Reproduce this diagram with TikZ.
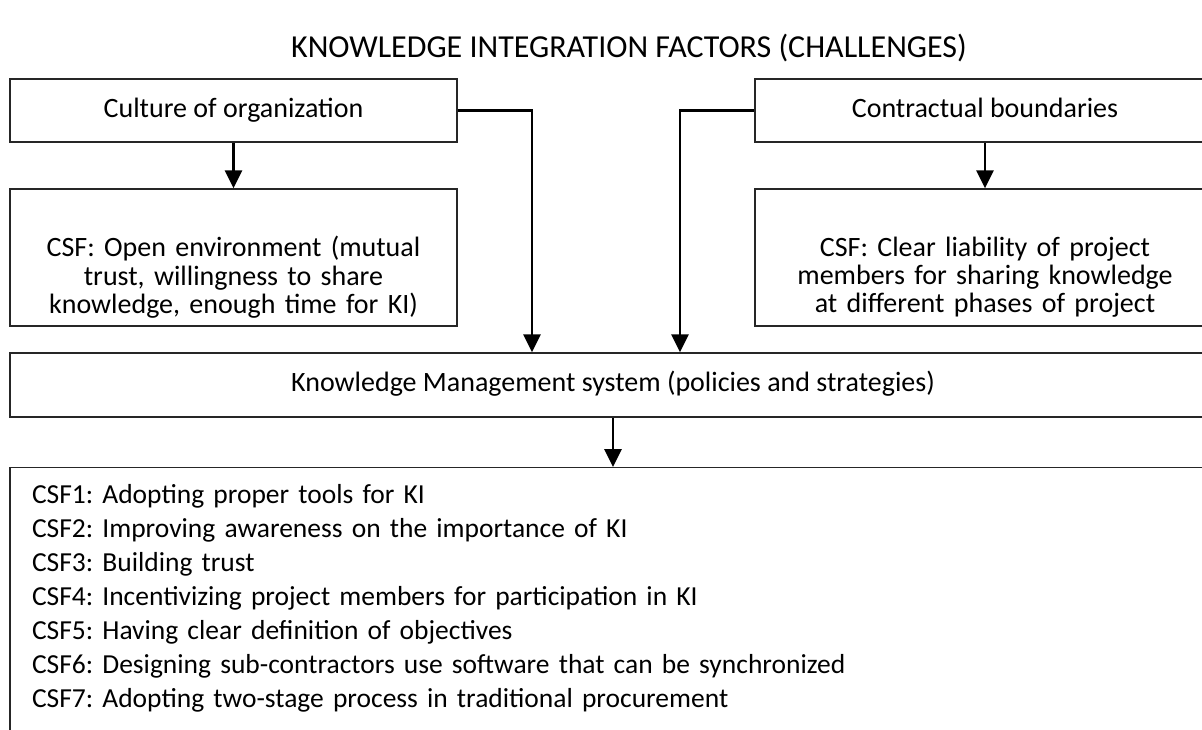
\documentclass[tikz,border=0pt]{standalone}
\usepackage{fontspec}
\setmainfont{Carlito}
\usetikzlibrary{arrows.meta}
\begin{document}
\frenchspacing
\begin{tikzpicture}[x=1pt,y=-1pt,
  box/.style={draw=black!85,line width=1.3pt,rectangle,inner sep=0pt,align=center,font=\fontsize{28}{28.3}\selectfont},
  one/.style={text height=19pt,text depth=6pt},
  conn/.style={line width=2.7pt,-{Triangle[length=18pt,width=17pt]}}]
\useasboundingbox (0,0) rectangle (1202,729);
\clip (0,0) rectangle (1202,729);
\node[font=\fontsize{32}{38}\selectfont] (title) at (629,48) {KNOWLEDGE INTEGRATION FACTORS (CHALLENGES)};
\node[box,one,minimum width=447pt,minimum height=63pt] (culture) at (233.5,110.5) {Culture of organization};
\node[box,minimum width=447pt,minimum height=137pt,text width=430pt,text depth=22pt] (csfa) at (233.5,257.5) {CSF: Open environment (mutual\\trust, willingness to share\\knowledge, enough time for KI)};
\node[box,one,minimum width=460pt,minimum height=63pt] (contract) at (985,110.5) {Contractual boundaries};
\node[box,minimum width=460pt,minimum height=137pt,text width=440pt,text depth=22pt] (csfb) at (985,257.5) {CSF: Clear liability of project\\members for sharing knowledge\\at different phases of project};
\node[box,one,minimum width=1206pt,minimum height=64pt] (km) at (613,385) {Knowledge Management system (policies and strategies)};
\node[box,anchor=north,minimum width=1206pt,align=left,text width=1162pt,
  inner xsep=22pt,inner ysep=12pt,font=\fontsize{27.5}{34}\selectfont] (list) at (613,467) {\strut CSF1: Adopting proper tools for KI\\
CSF2: Improving awareness on the importance of KI\\
CSF3: Building trust\\
CSF4: Incentivizing project members for participation in KI\\
CSF5: Having clear definition of objectives\\
CSF6: Designing sub-contractors use software that can be synchronized\\
CSF7: Adopting two-stage process in traditional procurement\\
\rule{0pt}{50pt}};
\draw[conn] (culture) -- (csfa);
\draw[conn] (contract) -- (csfb);
\draw[conn] (culture.east) -| ([xshift=-81pt]km.north);
\draw[conn] (contract.west) -| ([xshift=67pt]km.north);
\draw[conn] (km) -- (list);
\end{tikzpicture}
\end{document}
